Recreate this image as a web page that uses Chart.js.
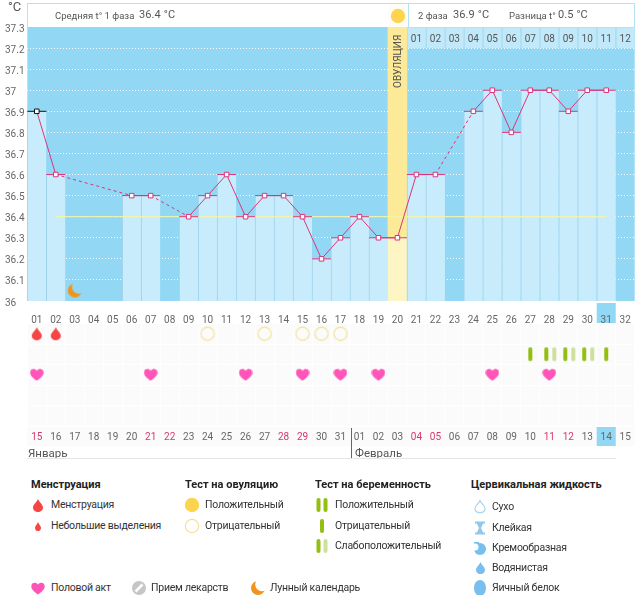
<!DOCTYPE html>
<html>
<head>
<meta charset="utf-8">
<style>
html, body { margin: 0; padding: 0; background: #fff; }
body { width: 644px; height: 595px; position: relative; overflow: hidden; font-family: Roboto, sans-serif; color: #444; }
canvas { position: absolute; left: 0; }
.t { position: absolute; white-space: nowrap; transform: translateY(-50%); font-size: 9.5px; line-height: 14px; color: #555; }
.big { font-size: 11px; letter-spacing: .1px; color: #555; }
.unit { font-size: 13px; color: #555; }
.head { font-weight: 700; font-size: 11px; color: #222; }
.leg { font-size: 10.5px; letter-spacing: -.25px; color: #333; }
.month { font-size: 11.5px; color: #555; }
.day { color: #555; font-size: 10px; transform: translate(-50%,-50%); }
.box { position: absolute; box-sizing: border-box; }
#ovu { position: absolute; left: 391px; top: 33px; height: 56px; width: 14px; writing-mode: vertical-rl; transform: rotate(180deg); font-size: 10px; line-height: 14px; text-align: center; color: #555; white-space: nowrap; z-index: 2; }
</style>
</head>
<body>
<script src="https://cdn.jsdelivr.net/npm/chart.js@4"></script>
<canvas id="tempChart" width="644" height="323" style="top:0"></canvas>
<canvas id="eventChart" width="644" height="125" style="top:323px"></canvas>
<div id="ovu">ОВУЛЯЦИЯ</div>
<script>
const cycleDays = ['01','02','03','04','05','06','07','08','09','10','11','12','13','14','15','16',
                   '17','18','19','20','21','22','23','24','25','26','27','28','29','30','31','32'];
const calendarDays = ['15','16','17','18','19','20','21','22','23','24','25','26','27','28','29','30','31',
                      '01','02','03','04','05','06','07','08','09','10','11','12','13','14','15'];
const redCalendarIdx = [0,6,7,13,14,20,21,27,28];
const secondPhaseDays = ['01','02','03','04','05','06','07','08','09','10','11','12'];
const temperatures = [36.9,36.6,null,null,null,36.5,36.5,null,36.4,36.5,36.6,36.4,36.5,36.5,36.4,36.2,
                      36.3,36.4,36.3,36.3,36.6,36.6,null,36.9,37,36.8,37,37,36.9,37,37,null];
const meanLine = [null,36.4,36.4,36.4,36.4,36.4,36.4,36.4,36.4,36.4,36.4,36.4,36.4,36.4,36.4,36.4,
                  36.4,36.4,36.4,36.4,36.4,36.4,36.4,36.4,36.4,36.4,36.4,36.4,36.4,36.4,36.4,null];
const yMin = 36, yMax = 37.3;
const ovulationDay = 20;
const moonDay = 3, moonLevel = 36.05;
const todayIdx = 30;

const rows = ['menses','tests','love','row4','row5'];
const mensesDays = [1,2];
const ovuNegativeDays = [10,13,15,16,17];
const pregPositiveDays = [27,31];
const pregPairDays = [28,29,30];
const loveDays = [1,7,12,15,17,19,25,28];

const PINK = '#d9367a', BAND = '#92d8f5', BAR = '#c9ecfc', SEP = '#9fd2ea';
const GREEN = '#93bf10', PALE = '#cfe09d';

Chart.defaults.animation = false;
Chart.defaults.font.family = 'Roboto, sans-serif';
Chart.defaults.plugins.legend.display = false;
Chart.defaults.plugins.tooltip.enabled = false;

// --- icons, used both for chart points and the legend
function canvasOf(w, h, draw) {
    const c = document.createElement('canvas');
    c.width = w; c.height = h;
    draw(c.getContext('2d'));
    return c;
}
function dropPath(g, cx, top, w, h) {
    g.beginPath();
    g.moveTo(cx, top);
    g.bezierCurveTo(cx + w * .15, top + h * .3, cx + w * .5, top + h * .42, cx + w * .5, top + h * .66);
    g.bezierCurveTo(cx + w * .5, top + h * 1.12, cx - w * .5, top + h * 1.12, cx - w * .5, top + h * .66);
    g.bezierCurveTo(cx - w * .5, top + h * .42, cx - w * .15, top + h * .3, cx, top);
    g.closePath();
}
function dropIcon(w, h, color) {
    return canvasOf(w + 2, h + 2, g => { dropPath(g, (w + 2) / 2, 1, w, h); g.fillStyle = color; g.fill(); });
}
function heartIcon() {
    return canvasOf(14, 13, g => {
        g.beginPath();
        g.moveTo(7, 12.5);
        g.bezierCurveTo(3, 9.5, .3, 7.5, .3, 4.2);
        g.bezierCurveTo(.3, .3, 5.4, -.3, 7, 2.8);
        g.bezierCurveTo(8.6, -.3, 13.7, .3, 13.7, 4.2);
        g.bezierCurveTo(13.7, 7.5, 11, 9.5, 7, 12.5);
        g.fillStyle = '#ff55b8';
        g.fill();
    });
}
function ringIcon(fill, stroke) {
    return canvasOf(16, 16, g => {
        g.beginPath();
        g.arc(8, 8, 6.6, 0, Math.PI * 2);
        if (fill) { g.fillStyle = fill; g.fill(); }
        g.strokeStyle = stroke;
        g.lineWidth = 1.1;
        g.stroke();
    });
}
function moonIcon() {
    return canvasOf(16, 16, g => {
        g.beginPath(); g.arc(8, 8, 7, 0, Math.PI * 2);
        g.fillStyle = '#f0941c'; g.fill();
        g.globalCompositeOperation = 'destination-out';
        g.beginPath(); g.arc(12, 4.5, 6.8, 0, Math.PI * 2); g.fill();
    });
}
function pillIcon() {
    return canvasOf(16, 16, g => {
        g.beginPath(); g.arc(8, 8, 7, 0, Math.PI * 2);
        g.fillStyle = '#c6c6c6'; g.fill();
        g.strokeStyle = '#fff'; g.lineWidth = 2.5;
        g.beginPath(); g.moveTo(4.5, 11.5); g.lineTo(11.5, 4.5); g.stroke();
    });
}
function testBars(bars) {
    return canvasOf(22, 16, g => {
        bars.forEach(([dx, color]) => {
            g.fillStyle = color;
            g.beginPath();
            g.roundRect(11 + dx - 2, 1, 4, 14, 2);
            g.fill();
        });
    });
}
function dryIcon() {
    return canvasOf(14, 16, g => { dropPath(g, 7, 1.5, 10, 12); g.strokeStyle = '#a9d4ee'; g.lineWidth = 1.2; g.stroke(); });
}
function stickyIcon() {
    return canvasOf(14, 16, g => {
        g.fillStyle = '#92c8ea';
        g.fillRect(2, 1.5, 10, 2); g.fillRect(2, 12.5, 10, 2);
        g.beginPath(); g.moveTo(3.5, 3); g.lineTo(10.5, 3); g.lineTo(8, 8); g.lineTo(10.5, 13); g.lineTo(3.5, 13); g.lineTo(6, 8); g.fill();
    });
}
function creamyIcon() {
    return canvasOf(16, 16, g => {
        g.beginPath(); g.arc(8, 9, 6, 0, Math.PI * 2); g.fillStyle = '#78bfee'; g.fill();
        g.fillRect(2, 2, 5, 3);
        g.globalCompositeOperation = 'destination-out';
        g.beginPath(); g.arc(3, 7, 3.5, 0, Math.PI * 2); g.fill();
    });
}
function eggIcon() {
    return canvasOf(16, 18, g => { g.beginPath(); g.ellipse(8, 9, 6, 8, 0, 0, Math.PI * 2); g.fillStyle = '#78bfee'; g.fill(); });
}

const ICON_DROP = dropIcon(10, 13, '#f54545');
const ICON_HEART = heartIcon();
const ICON_RING = ringIcon(null, '#f1e292');
const ICON_MOON = moonIcon();
const ICON_PREG = testBars([[0, GREEN]]);
const ICON_PAIR = testBars([[-3, GREEN], [5, PALE]]);

// --- temperature chart
const bandPlugin = {
    id: 'band',
    beforeDraw(chart) {
        const {ctx, chartArea: a, scales: {x}} = chart;
        ctx.save();
        ctx.fillStyle = BAND;
        ctx.fillRect(a.left, a.top, a.width, a.height);
        ctx.fillRect(x.getPixelForValue(todayIdx) - 9.5, 303, 19, 20);
        ctx.restore();
    }
};

const isOvulation = i => i === ovulationDay - 1;
const markColor = c => c.dataIndex === 0 ? '#111' : PINK;

const tempChart = new Chart(document.getElementById('tempChart'), {
    type: 'bar',
    plugins: [bandPlugin],
    data: {
        labels: cycleDays,
        datasets: [
            { type: 'line', label: 'temp', order: 1, data: temperatures, spanGaps: true,
              borderColor: PINK, borderWidth: 1, tension: 0,
              segment: { borderDash: c => (c.p0.skip || c.p1.skip) ? [3, 3] : undefined },
              pointStyle: 'rect', pointRadius: 3.2, pointBorderWidth: 1,
              pointBackgroundColor: '#fff', pointBorderColor: markColor },
            { type: 'line', label: 'marks', order: 2, data: temperatures, showLine: false,
              pointStyle: 'line', pointRadius: 9.5, pointBorderWidth: 1, pointBorderColor: markColor },
            { type: 'line', label: 'moon', order: 3, showLine: false, pointStyle: ICON_MOON, pointRadius: 6,
              data: cycleDays.map((d, i) => i === moonDay - 1 ? moonLevel : null) },
            { type: 'line', label: 'mean', order: 4, data: meanLine, borderColor: '#f6f7a0', borderWidth: 1, pointRadius: 0 },
            { label: 'bars', order: 5, grouped: false, data: temperatures,
              barPercentage: 1, categoryPercentage: 1,
              backgroundColor: c => isOvulation(c.dataIndex) ? '#fdf6c4' : BAR,
              borderColor: c => isOvulation(c.dataIndex) ? '#fdf6c4' : SEP,
              borderWidth: { left: 1 }, borderSkipped: false },
            { label: 'ovulation', order: 6, grouped: false, barPercentage: 1, categoryPercentage: 1,
              backgroundColor: '#fdea98',
              data: cycleDays.map((d, i) => isOvulation(i) ? [yMin, yMax] : null) },
            { label: 'phase2', order: 7, grouped: false, barPercentage: 1, categoryPercentage: 1,
              backgroundColor: '#c2e9fa', borderColor: SEP, borderWidth: { left: 1 }, borderSkipped: false,
              data: cycleDays.map((d, i) => i >= ovulationDay ? [37.2, yMax] : null) }
        ]
    },
    options: {
        responsive: false,
        devicePixelRatio: 1,
        layout: { autoPadding: false, padding: { left: 5, right: 9.3, top: 27, bottom: 0 } },
        scales: {
            x: {
                grid: { display: false }, border: { display: false },
                afterFit: s => { s.height = 22; },
                ticks: { color: '#666', font: { size: 10 }, padding: 5, maxRotation: 0, autoSkip: false }
            },
            y: {
                min: yMin, max: yMax,
                afterFit: s => { s.width = 22.3; },
                grid: {
                    drawTicks: false,
                    color: c => (c.tick.value <= yMin || c.tick.value >= yMax - .01) ? 'transparent' : 'rgba(255,255,255,.95)'
                },
                border: { display: false, dash: [1, 2] },
                ticks: {
                    stepSize: .1, autoSkip: false, crossAlign: 'far', padding: 0, color: '#666',
                    // empty first line pushes the label 2px below its grid line, as in the original
                    font: { size: 10, lineHeight: '4px' },
                    callback: v => ['', String(Number(v.toFixed(1)))]
                }
            }
        }
    }
});

// --- events chart, same day columns
const eventPlugin = {
    id: 'eventBg',
    beforeDraw(chart) {
        const {ctx, chartArea: a, scales: {x}} = chart;
        ctx.save();
        ctx.fillStyle = '#fbfbfb';
        ctx.fillRect(a.left, 0, a.width, 123);
        ctx.fillStyle = BAND;
        ctx.fillRect(x.getPixelForValue(todayIdx) - 9.5, 104, 19, 19);
        ctx.restore();
    }
};
const eventSet = (days, row, style) => ({
    showLine: false, pointStyle: style, pointRadius: 6,
    data: days.map(d => ({ x: cycleDays[d - 1], y: row }))
});

const eventChart = new Chart(document.getElementById('eventChart'), {
    type: 'line',
    plugins: [eventPlugin],
    data: {
        labels: cycleDays,
        datasets: [
            eventSet(mensesDays, 'menses', ICON_DROP),
            eventSet(ovuNegativeDays, 'menses', ICON_RING),
            eventSet(pregPositiveDays, 'tests', ICON_PREG),
            eventSet(pregPairDays, 'tests', ICON_PAIR),
            eventSet(loveDays, 'love', ICON_HEART)
        ]
    },
    options: {
        responsive: false,
        devicePixelRatio: 1,
        layout: { autoPadding: false, padding: { left: 27.3, right: 9.3, top: .5, bottom: 0 } },
        scales: {
            x: {
                offset: true,
                grid: { offset: true, color: '#fff', drawTicks: false },
                border: { display: false },
                afterFit: s => { s.height = 22; },
                ticks: {
                    padding: 5, maxRotation: 0, autoSkip: false, font: { size: 10 },
                    callback: (v, i) => calendarDays[i],
                    color: c => redCalendarIdx.includes(c.index) ? '#d9366f' : '#666'
                }
            },
            y: {
                type: 'category', labels: rows, offset: true,
                afterFit: s => { s.width = 0; },
                grid: { offset: true, color: '#fff', drawTicks: false },
                border: { display: false },
                ticks: { display: false }
            }
        }
    }
});

// --- header strip and legend
function addBox(x, y, w, h, css) {
    const d = document.createElement('div');
    d.className = 'box';
    d.style.cssText = `left:${x}px;top:${y}px;width:${w}px;height:${h}px;${css}`;
    document.body.appendChild(d);
}
function addText(x, y, text, cls) {
    const d = document.createElement('div');
    d.className = 't ' + (cls || '');
    d.style.left = x + 'px';
    d.style.top = y + 'px';
    d.textContent = text;
    document.body.appendChild(d);
}
function addIcon(cx, cy, c) {
    c.style.left = (cx - c.width / 2) + 'px';
    c.style.top = (cy - c.height / 2) + 'px';
    document.body.appendChild(c);
}

addBox(27, 3, 362, 24, 'border-top:1px solid #b4e2f5;border-left:1px solid #b4e2f5;background:#fff');
addBox(389, 3, 19, 24, 'border-top:1px solid #b4e2f5;background:#fdfdf5');
addBox(408, 3, 227, 25, 'border:1px solid #b4e2f5;background:#fff');
addIcon(397.7, 16, ringIcon('#fdd44f', '#fdd44f'));
addText(8, 7, '°C', 'unit');
addText(55, 16, 'Средняя t° 1 фаза');
addText(139, 15, '36.4 °C', 'big');
addText(418, 16, '2 фаза');
addText(453, 15, '36.9 °C', 'big');
addText(509, 16, 'Разница t°');
addText(558, 15, '0.5 °C', 'big');
secondPhaseDays.forEach((d, i) => {
    addText(tempChart.scales.x.getPixelForValue(ovulationDay + i), 39, d, 'day');
});

addText(28, 453, 'Январь', 'month');
addText(355, 453, 'Февраль', 'month');
addBox(27, 458, 589, 1, 'background:#e6e6e6');
addBox(350.5, 428, 1, 30, 'background:#666');

addText(31, 485, 'Менструация', 'head');
addIcon(38, 505, dropIcon(10, 13, '#f54545'));
addText(51, 505, 'Менструация', 'leg');
addIcon(38, 526, dropIcon(6, 9, '#f54545'));
addText(51, 526, 'Небольшие выделения', 'leg');

addText(185, 485, 'Тест на овуляцию', 'head');
addIcon(192, 505, ringIcon('#fdd44f', '#fdd44f'));
addText(205, 505, 'Положительный', 'leg');
addIcon(192, 526, ringIcon(null, '#f1e292'));
addText(205, 526, 'Отрицательный', 'leg');

addText(315, 485, 'Тест на беременность', 'head');
addIcon(322, 505, testBars([[-3.5, GREEN], [3.5, GREEN]]));
addText(335, 505, 'Положительный', 'leg');
addIcon(322, 526, testBars([[0, GREEN]]));
addText(335, 526, 'Отрицательный', 'leg');
addIcon(322, 546, testBars([[-3.5, GREEN], [3.5, PALE]]));
addText(335, 546, 'Слабоположительный', 'leg');

addText(471, 485, 'Цервикальная жидкость', 'head');
addIcon(480, 507, dryIcon());
addText(492, 507, 'Сухо', 'leg');
addIcon(480, 528, stickyIcon());
addText(492, 528, 'Клейкая', 'leg');
addIcon(480, 548, creamyIcon());
addText(492, 548, 'Кремообразная', 'leg');
addIcon(480, 568, dropIcon(9, 12, '#78bfee'));
addText(492, 568, 'Водянистая', 'leg');
addIcon(480, 588, eggIcon());
addText(492, 588, 'Яичный белок', 'leg');

addIcon(38, 588, heartIcon());
addText(51, 588, 'Половой акт', 'leg');
addIcon(139, 588, pillIcon());
addText(151, 588, 'Прием лекарств', 'leg');
addIcon(258, 588, moonIcon());
addText(270, 588, 'Лунный календарь', 'leg');
</script>
</body>
</html>
